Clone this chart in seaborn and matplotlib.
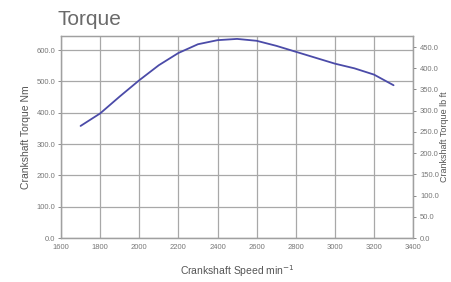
import pandas as pd
import seaborn as sns
import matplotlib.pyplot as plt

rpm = [1700, 1800, 1900, 2000, 2100, 2200, 2300, 2400, 2500, 2600, 2700, 2800, 2900, 3000, 3100, 3200, 3300]
torque_nm = [358, 398, 452, 504, 552, 591, 619, 632, 636, 630, 614, 595, 576, 557, 542, 522, 488]

x_ticks = [1600, 1800, 2000, 2200, 2400, 2600, 2800, 3000, 3200, 3400]
y_ticks = [0, 100, 200, 300, 400, 500, 600]
y2_ticks = [0, 50, 100, 150, 200, 250, 300, 350, 400, 450]
NM_TO_LBFT = 0.7376

df = pd.DataFrame({'rpm': rpm, 'torque': torque_nm})

sns.set_style('white')
plt.rcParams['font.family'] = ['Liberation Sans Narrow', 'Liberation Sans', 'DejaVu Sans']

fig = plt.figure(figsize=(4.52, 2.82), dpi=100)
ax = fig.add_axes([0.135, 0.156, 0.779, 0.716])

sns.lineplot(x='rpm', y='torque', data=df, ax=ax, color='#4b4ba8', linewidth=1.3)

ax.set_xlim(1600, 3400)
ax.set_ylim(0, 645)
ax.set_xticks(x_ticks)
ax.set_xticklabels([str(v) for v in x_ticks])
ax.set_yticks(y_ticks)
ax.set_yticklabels([f'{v:.1f}' for v in y_ticks])
ax.grid(True, color='#a8a8a8', linewidth=0.9)
ax.tick_params(labelsize=5.5, colors='#777777', length=2, width=0.6, pad=2)
for s in ax.spines.values():
    s.set_color('#a0a0a0')
    s.set_linewidth(0.9)

ax.set_xlabel('Crankshaft Speed min$^{-1}$', fontsize=7.5, color='#555555', labelpad=9)
ax.set_ylabel('Crankshaft Torque Nm', fontsize=7.5, color='#555555', labelpad=4)

ax2 = ax.twinx()
ax2.set_ylim(0, 645 * NM_TO_LBFT)
ax2.set_yticks(y2_ticks)
ax2.set_yticklabels([f'{v:.1f}' for v in y2_ticks])
ax2.tick_params(labelsize=5.5, colors='#777777', length=2, width=0.6, pad=3)
ax2.set_ylabel('Crankshaft Torque lb ft', fontsize=6.5, color='#555555', labelpad=1)
for s in ax2.spines.values():
    s.set_color('#a0a0a0')
    s.set_linewidth(0.9)

fig.text(0.128, 0.91, 'Torque', fontsize=15, color='#6a6a6a')

fig.savefig('out.png', dpi=100)
